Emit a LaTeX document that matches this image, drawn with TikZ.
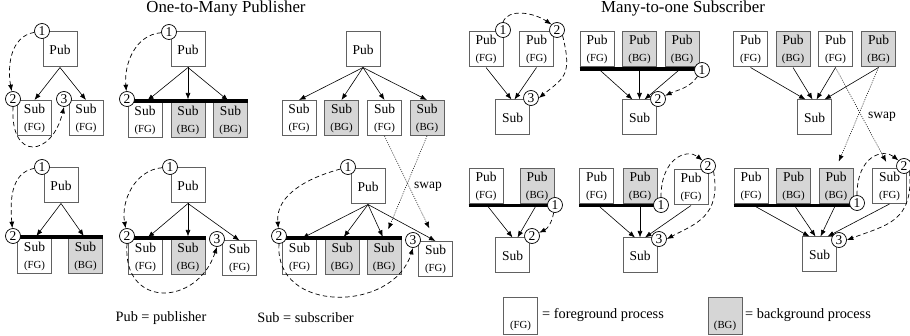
\documentclass[tikz,border=0pt]{standalone}
\usepackage{fontspec}
\setmainfont{Liberation Serif}
\usetikzlibrary{arrows.meta}
\newcommand{\boxbig}{\fontsize{13.5}{17}\selectfont}
\newcommand{\boxsmall}{\fontsize{10.8}{17}\selectfont}
\newcommand{\twoline}[2]{#1\\{\boxsmall (#2)}}
\tikzset{
 pbox/.style={draw=black!62, line width=1pt, fill=white, minimum width=34pt, minimum height=35pt, inner sep=0pt, align=center, font=\boxbig},
 gbox/.style={pbox, fill=black!16},
 num/.style={circle, draw=black, line width=0.7pt, fill=white, minimum size=15pt, inner sep=0pt, font=\fontsize{13.5}{13.5}\selectfont},
 ar/.style={-{Latex[length=6.5pt,width=5pt]}, line width=0.6pt},
 dsh/.style={ar, line width=0.7pt, dash pattern=on 4.5pt off 3pt},
 swp/.style={ar, line width=0.55pt, dash pattern=on 1pt off 1.3pt},
 thickbar/.style={line width=3.8pt, black},
 ttl/.style={font=\fontsize{16.8}{16.8}\selectfont},
 lgd/.style={font=\fontsize{14.3}{14.3}\selectfont},
}
\begin{document}
\begin{tikzpicture}[x=1pt,y=1pt]
\useasboundingbox (0,0) rectangle (910,-336);
% titles
\node[ttl] (t1) at (226,-8) {One-to-Many Publisher};
\node[ttl] (t2) at (683,-8) {Many-to-one Subscriber};

% ---------- Panel A
\node[pbox] (apub) at (60,-49.5) {Pub};
\node[pbox] (as1) at (34.5,-118) {\twoline{Sub}{FG}};
\node[pbox] (as2) at (86,-118) {\twoline{Sub}{FG}};
\draw[ar] (apub.south) -- (as1.north);
\draw[ar] (apub.south) -- (as2.north);
\node[num] (a1) at (42,-31) {1};
\node[num] (a2) at (13,-99) {2};
\node[num] (a3) at (64,-99) {3};
\draw[dsh] (a1) to[out=190,in=100] (a2);
\draw[dsh] (a2.south) .. controls +(-3,-55) and +(-12,-50) .. (a3.south);

% ---------- Panel B
\node[pbox] (bpub) at (188,-49.5) {Pub};
\node[pbox] (bs1) at (145,-120.5) {\twoline{Sub}{FG}};
\node[gbox] (bs2) at (188,-120.5) {\twoline{Sub}{BG}};
\node[gbox] (bs3) at (230.5,-120.5) {\twoline{Sub}{BG}};
\draw[thickbar] ([yshift=1.5pt]bs1.north west) -- ([yshift=1.5pt]bs3.north east);
\draw[ar,shorten >=3pt] (bpub.south) -- (bs1.north);
\draw[ar,shorten >=3pt] (bpub.south) -- (bs2.north);
\draw[ar,shorten >=3pt] (bpub.south) -- (bs3.north);
\node[num] (b1) at (169,-32) {1};
\node[num] (b2) at (127,-99) {2};
\draw[dsh] (b1) to[out=185,in=95] (b2);

% ---------- Panel C
\node[pbox] (cpub) at (363,-49.5) {Pub};
\node[pbox] (cs1) at (299,-118) {\twoline{Sub}{FG}};
\node[gbox] (cs2) at (341.5,-118) {\twoline{Sub}{BG}};
\node[pbox] (cs3) at (384.5,-118) {\twoline{Sub}{FG}};
\node[gbox] (cs4) at (427,-118) {\twoline{Sub}{BG}};
\foreach \s in {cs1,cs2,cs3,cs4} \draw[ar] (cpub.south) -- (\s.north);

% ---------- Panel D
\node[pbox] (dpub) at (61,-185.5) {Pub};
\node[pbox] (ds1) at (34.5,-256.5) {\twoline{Sub}{FG}};
\node[gbox] (ds2) at (85.5,-256.5) {\twoline{Sub}{BG}};
\draw[thickbar] ([yshift=1.5pt]ds1.north west) -- ([yshift=1.5pt]ds2.north east);
\draw[ar,shorten >=3pt] (dpub.south) -- (ds1.north);
\draw[ar,shorten >=3pt] (dpub.south) -- (ds2.north);
\node[num] (d1) at (42,-167) {1};
\node[num] (d2) at (13,-236) {2};
\draw[dsh] (d1) to[out=190,in=95] (d2);

% ---------- Panel E
\node[pbox] (epub) at (188,-185.5) {Pub};
\node[pbox] (es1) at (145.5,-257.5) {\twoline{Sub}{FG}};
\node[gbox] (es2) at (188,-257.5) {\twoline{Sub}{BG}};
\node[pbox] (es3) at (239.5,-258.5) {\twoline{Sub}{FG}};
\draw[thickbar] ([yshift=1.5pt]es1.north west) -- ([yshift=1.5pt]es2.north east);
\draw[ar,shorten >=3pt] (epub.south) -- (es1.north);
\draw[ar,shorten >=3pt] (epub.south) -- (es2.north);
\draw[ar] (epub.south) -- (es3.north);
\node[num] (e1) at (170,-167) {1};
\node[num] (e2) at (127,-236) {2};
\node[num] (e3) at (217,-239) {3};
\draw[dsh] (e1) to[out=185,in=100] (e2);
\draw[dsh] (e2.south) .. controls +(-5,-65) and +(-20,-60) .. (e3.south);

% ---------- Panel F
\node[pbox] (fpub) at (368,-186.5) {Pub};
\node[pbox] (fs1) at (299.5,-257.5) {\twoline{Sub}{FG}};
\node[gbox] (fs2) at (342,-257.5) {\twoline{Sub}{BG}};
\node[gbox] (fs3) at (384,-257.5) {\twoline{Sub}{BG}};
\node[pbox] (fs4) at (435.5,-259) {\twoline{Sub}{FG}};
\draw[thickbar] ([yshift=1.5pt]fs1.north west) -- ([yshift=1.5pt]fs3.north east);
\draw[ar,shorten >=3pt] (fpub.south) -- (fs1.north);
\draw[ar,shorten >=3pt] (fpub.south) -- (fs2.north);
\draw[ar,shorten >=3pt] (fpub.south) -- (fs3.north);
\draw[ar] (fpub.south) -- (fs4.north);
\node[num] (f1) at (348,-167) {1};
\node[num] (f2) at (279,-236) {2};
\node[num] (f3) at (413,-240) {3};
\draw[dsh] (f1) to[out=195,in=95] (f2);
\draw[dsh] (f2.south) .. controls +(-5,-70) and +(-20,-65) .. (f3.south);
% swap (left)
\draw[swp,shorten >=14pt] (cs3.south) -- (fs4.north);
\draw[swp,shorten >=11pt] (cs4.south) -- (fs3.north);
\node[font=\boxbig] (swl) at (428,-187) {swap};

% ---------- Panel G
\node[pbox] (gp1) at (486,-49.5) {\twoline{Pub}{FG}};
\node[pbox] (gp2) at (536.5,-49.5) {\twoline{Pub}{FG}};
\node[pbox] (gsub) at (512.5,-117.5) {Sub};
\draw[ar] (gp1.south) -- ([xshift=-1pt]gsub.north);
\draw[ar] (gp2.south) -- ([xshift=2pt]gsub.north);
\node[num] (g1) at (503,-30) {1};
\node[num] (g2) at (557,-30) {2};
\node[num] (g3) at (531,-98) {3};
\draw[dsh] (g1.north) .. controls +(5,14) and +(-18,12) .. (g2.north west);
\draw[dsh] (g2.south east) .. controls +(10,-40) and +(25,20) .. (g3.east);

% ---------- Panel H
\node[pbox] (hp1) at (597,-49.5) {\twoline{Pub}{FG}};
\node[gbox] (hp2) at (639.5,-49.5) {\twoline{Pub}{BG}};
\node[gbox] (hp3) at (682,-49.5) {\twoline{Pub}{BG}};
\draw[thickbar] ([yshift=-1.5pt]hp1.south west) -- ([yshift=-1.5pt]hp3.south east);
\node[pbox] (hsub) at (639.5,-117.5) {Sub};
\draw[ar,shorten <=3pt] (hp1.south) -- ([xshift=-7pt]hsub.north);
\draw[ar,shorten <=3pt] (hp2.south) -- (hsub.north);
\draw[ar,shorten <=3pt] (hp3.south) -- ([xshift=5pt]hsub.north);
\node[num] (h1) at (702,-70) {1};
\node[num] (h2) at (658,-99) {2};
\draw[dsh] (h1) to[out=-125,in=25] (h2);

% ---------- Panel I
\node[pbox] (ip1) at (750.5,-49.5) {\twoline{Pub}{FG}};
\node[gbox] (ip2) at (793,-49.5) {\twoline{Pub}{BG}};
\node[pbox] (ip3) at (835.5,-49.5) {\twoline{Pub}{FG}};
\node[gbox] (ip4) at (878.5,-49.5) {\twoline{Pub}{BG}};
\node[pbox] (isub) at (814.5,-117.5) {Sub};
\draw[ar] (ip1.south) -- ([xshift=-9pt]isub.north);
\draw[ar] (ip2.south) -- ([xshift=-2pt]isub.north);
\draw[ar] (ip3.south) -- ([xshift=2pt]isub.north);
\draw[ar] (ip4.south) -- ([xshift=10pt]isub.north);
\node[font=\boxbig] (swr) at (882,-117) {swap};

% ---------- Panel J
\node[pbox] (jp1) at (486,-186) {\twoline{Pub}{FG}};
\node[gbox] (jp2) at (537,-186) {\twoline{Pub}{BG}};
\draw[thickbar] ([yshift=-1.5pt]jp1.south west) -- ([yshift=-1.5pt]jp2.south east);
\node[pbox] (jsub) at (512.5,-255.5) {Sub};
\draw[ar,shorten <=3pt] (jp1.south) -- (jsub.north);
\draw[ar,shorten <=3pt] (jp2.south) -- ([xshift=5pt]jsub.north);
\node[num] (j1) at (555,-205) {1};
\node[num] (j2) at (532,-236) {2};
\draw[dsh] (j1) to[out=-100,in=25] (j2);

% ---------- Panel K
\node[pbox] (kp1) at (596.5,-186) {\twoline{Pub}{FG}};
\node[gbox] (kp2) at (640,-186) {\twoline{Pub}{BG}};
\node[pbox] (kp3) at (691,-187.5) {\twoline{Pub}{FG}};
\draw[thickbar] ([yshift=-1.5pt]kp1.south west) -- ([yshift=-1.5pt]kp2.south east);
\node[pbox] (ksub) at (640,-255.5) {Sub};
\draw[ar,shorten <=3pt] (kp1.south) -- ([xshift=-5pt]ksub.north);
\draw[ar,shorten <=3pt] (kp2.south) -- (ksub.north);
\draw[ar] (kp3.south) -- ([xshift=5pt]ksub.north);
\node[num] (k1) at (661,-205) {1};
\node[num] (k2) at (708,-166) {2};
\node[num] (k3) at (659,-239) {3};
\draw[dsh] (k1.north) .. controls +(0,40) and +(-15,12) .. (k2.north west);
\draw[dsh] (k2.south east) .. controls +(8,-45) and +(28,15) .. (k3.east);

% ---------- Panel L
\node[pbox] (lp1) at (751,-186) {\twoline{Pub}{FG}};
\node[gbox] (lp2) at (793.5,-186) {\twoline{Pub}{BG}};
\node[gbox] (lp3) at (836,-186) {\twoline{Pub}{BG}};
\node[pbox] (ls) at (889.5,-186) {\twoline{Sub}{FG}};
\draw[thickbar] ([yshift=-1.5pt]lp1.south west) -- ([yshift=-1.5pt]lp3.south east);
\node[pbox] (lsub) at (819.5,-254.5) {Sub};
\draw[ar,shorten <=3pt] (lp1.south) -- ([xshift=-10pt]lsub.north);
\draw[ar,shorten <=3pt] (lp2.south) -- ([xshift=-4pt]lsub.north);
\draw[ar,shorten <=3pt] (lp3.south) -- ([xshift=1pt]lsub.north);
\draw[ar] (ls.south) -- ([xshift=8pt]lsub.north);
\node[num] (l1) at (857,-203) {1};
\node[num] (l2) at (904,-166) {2};
\node[num] (l3) at (839,-240) {3};
\draw[dsh] (l1.north) .. controls +(0,40) and +(-15,12) .. (l2.north west);
\draw[dsh] (l2.south east) .. controls +(4,-50) and +(40,15) .. (l3.east);
% swap (right)
\draw[swp,shorten >=7pt] (ip3.south) -- (ls.north);
\draw[swp,shorten >=7pt] (ip4.south) -- (lp3.north);

% ---------- Legends
\node[lgd] (lpub) at (161,-318) {Pub = publisher};
\node[lgd] (lsubt) at (305.5,-318) {Sub = subscriber};
\node[pbox, minimum height=37pt] (lfg) at (520.5,-316.5) {};
\node[font=\boxsmall] (lfgt) at (520.5,-326) {(FG)};
\node[lgd, anchor=west, inner sep=0pt] (lfgl) at (542,-315) {= foreground process};
\node[gbox, minimum height=37pt] (lbg) at (725,-316.5) {};
\node[font=\boxsmall] (lbgt) at (725,-326) {(BG)};
\node[lgd, anchor=west, inner sep=0pt] (lbgl) at (745,-315) {= background process};
\end{tikzpicture}
\end{document}
